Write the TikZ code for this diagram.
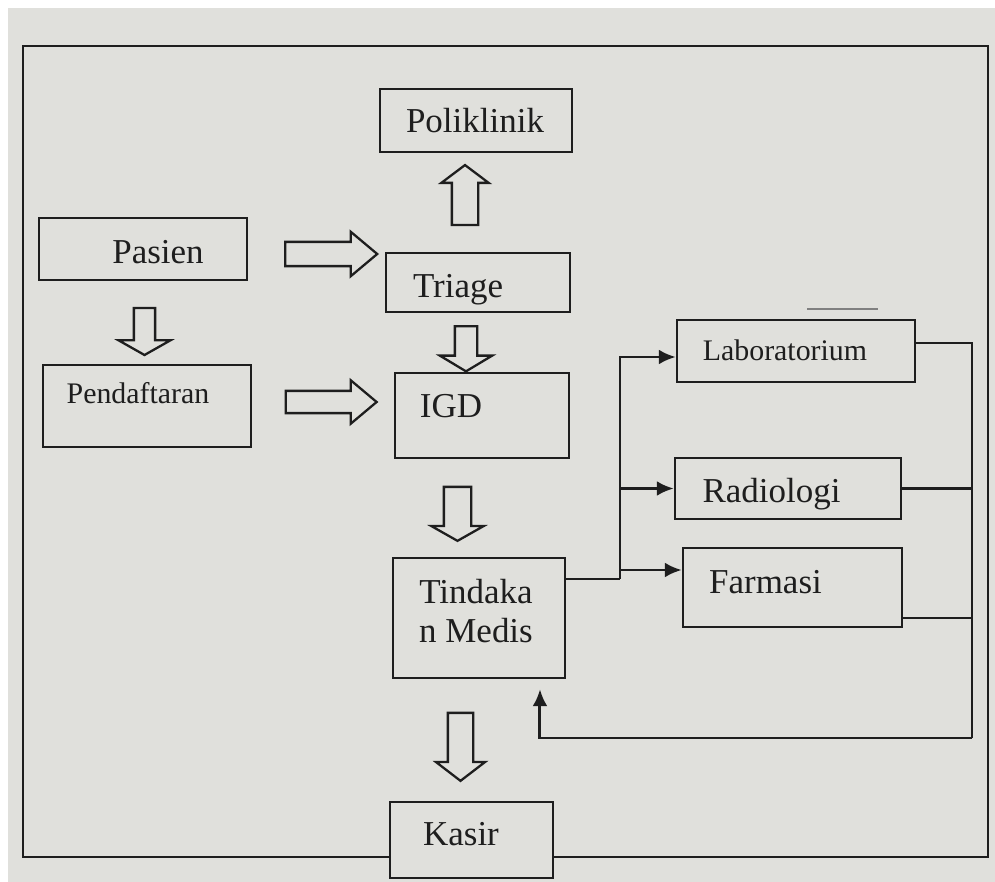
\documentclass[tikz,border=0pt]{standalone}
\usepackage{fontspec}
\setmainfont{Liberation Serif}
\usetikzlibrary{shapes.arrows,arrows.meta}
\definecolor{paper}{RGB}{224,224,220}
\definecolor{ink}{RGB}{30,30,30}
\begin{document}
\begin{tikzpicture}[x=0.02cm,y=-0.02cm,
        box/.style={draw=ink, fill=paper, line width=1.4pt, inner sep=0pt},
        txt/.style={text=ink, inner sep=0pt, anchor=base, font=\fontsize{19.9}{22.7}\selectfont},
        smalltxt/.style={font=\fontsize{17}{20}\selectfont},
        hollow/.style={single arrow, draw=ink, fill=paper, line width=1.3pt, inner xsep=0pt},
        conn/.style={draw=ink, line width=1.7pt},
        latexhead/.style={-{Latex[length=0.34cm,width=0.3cm]}}]
        \useasboundingbox (0,0) rectangle (995,882);
        \fill[white] (0,0) rectangle (995,882);
        \fill[paper] (8,8) rectangle (995,882);
        \draw[ink, line width=1.3pt] (23,46) rectangle (988,857);
        \draw[gray, line width=0.7pt] (807,309) -- (878,309);

        \node[box, minimum width=3.84cm, minimum height=1.26cm] (poli)   at (476,120.5) {};
        \node[box, minimum width=4.16cm, minimum height=1.24cm] (pasien) at (143,249)   {};
        \node[box, minimum width=3.68cm, minimum height=1.18cm] (triage) at (478,282.5) {};
        \node[box, minimum width=4.16cm, minimum height=1.64cm] (pend)   at (147,406)   {};
        \node[box, minimum width=3.48cm, minimum height=1.70cm] (igd)    at (482,415.5) {};
        \node[box, minimum width=3.44cm, minimum height=2.40cm] (tind)   at (479,618)   {};
        \node[box, minimum width=3.26cm, minimum height=1.52cm] (kasir)  at (471.5,840) {};
        \node[box, minimum width=4.76cm, minimum height=1.24cm] (lab)    at (796,351)   {};
        \node[box, minimum width=4.52cm, minimum height=1.22cm] (rad)    at (788,488.5) {};
        \node[box, minimum width=4.38cm, minimum height=1.58cm] (farm)   at (792.5,587.5) {};

        \node[txt] (polit)   at (475,133)   {Poliklinik};
        \node[txt] (pasient) at (158,263)   {Pasien};
        \node[txt] (triaget) at (458,297)   {Triage};
        \node[txt] (igdt)    at (451,417)   {IGD};
        \node[txt, smalltxt] (pendt) at (138,403) {Pendaftaran};
        \node[txt, smalltxt] (labt)  at (785,360) {Laboratorium};
        \node[txt] (radt)    at (771.5,502) {Radiologi};
        \node[txt] (farmt)   at (765.5,593) {Farmasi};
        \node[txt] (kasirt)  at (461,845)   {Kasir};
        \node[txt, anchor=center, align=center] (tindt) at (476,611) {Tindaka\\n Medis};

        \node[hollow, rotate=90,  minimum height=1.2cm,  inner ysep=0.24cm, single arrow head extend=0.21cm, single arrow tip angle=106] (toPoli)   at (465,200)     {};
        \node[hollow, rotate=-90, minimum height=0.9cm,  inner ysep=0.2cm,  single arrow head extend=0.3cm,  single arrow tip angle=118] (toIgd)    at (466,345.5)   {};
        \node[hollow, rotate=-90, minimum height=0.94cm, inner ysep=0.19cm, single arrow head extend=0.31cm, single arrow tip angle=121] (toPend)   at (144.5,328.5) {};
        \node[hollow, rotate=-90, minimum height=1.08cm, inner ysep=0.25cm, single arrow head extend=0.25cm, single arrow tip angle=121] (toTind)   at (457.5,510)   {};
        \node[hollow, rotate=-90, minimum height=1.36cm, inner ysep=0.23cm, single arrow head extend=0.24cm, single arrow tip angle=105] (toKasir)  at (460.5,742)   {};
        \node[hollow, minimum height=1.84cm, inner ysep=0.22cm, single arrow head extend=0.2cm,  single arrow tip angle=80] (toTriage) at (324,254)   {};
        \node[hollow, minimum height=1.82cm, inner ysep=0.2cm,  single arrow head extend=0.21cm, single arrow tip angle=80] (toIgdB)   at (324.5,402) {};

        \coordinate (fork) at (620,579);
        \coordinate (ret) at (972,738);
        \coordinate (farmin) at ([yshift=0.35cm]farm.west);
        \coordinate (farmout) at ([yshift=-0.61cm]farm.east);

        \draw[conn] (tind.east |- fork) -- (fork);
        \draw[conn, latexhead] (fork) |- ([yshift=-0.12cm]lab.west);
        \draw[conn, latexhead] (fork |- rad.west) -- (rad.west);
        \draw[conn, latexhead] (fork |- farmin) -- (farmin);

        \draw[conn] ([yshift=0.16cm]lab.east) -| (ret);
        \draw[conn] (rad.east) -- (rad.east -| ret);
        \draw[conn] (farmout) -- (farmout -| ret);
        \draw[conn, latexhead, shorten >=0.2cm] (ret) -| ([xshift=1.22cm]tind.south);
\end{tikzpicture}
\end{document}
